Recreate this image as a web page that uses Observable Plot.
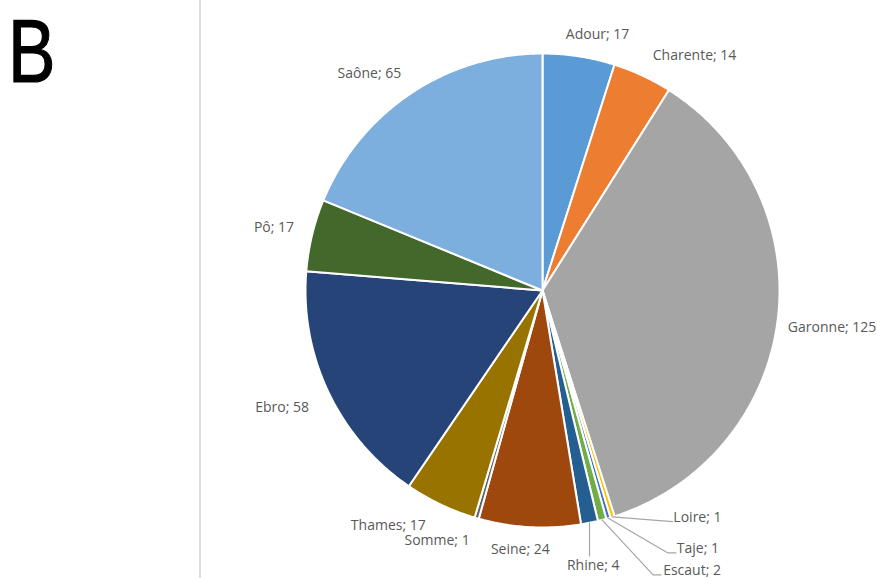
<!DOCTYPE html>
<html><head><meta charset="utf-8">
<script src="https://cdn.jsdelivr.net/npm/d3@7"></script>
<script src="https://cdn.jsdelivr.net/npm/@observablehq/plot@0.6"></script>
<style>
html,body{margin:0;padding:0;background:#fff;}
#wrap{position:relative;width:877px;height:578px;overflow:hidden;background:#fff;}
#letter{position:absolute;left:8px;top:0;font-family:"Liberation Sans",Arial,sans-serif;font-weight:400;font-size:89px;line-height:normal;color:#000;-webkit-text-stroke:1.2px #000;transform:scaleX(0.8);transform-origin:0 0;}
#divider{position:absolute;left:199px;top:0;width:2px;height:578px;background:#dcdcdc;}
#chart{position:absolute;left:0;top:0;}
</style></head><body>
<div id="wrap"><div id="letter">B</div><div id="divider"></div><div id="chart"></div></div>
<script>
// ---- data ----
const rivers = ["Adour","Charente","Garonne","Loire","Taje","Escaut","Rhine","Seine","Somme","Thames","Ebro","Pô","Saône"];
const counts = [17,14,125,1,1,2,4,24,1,17,58,17,65];
const colors = ["#5B9BD5","#ED7D31","#A5A5A5","#FFC000","#4472C4","#70AD47","#255E91","#9E480E","#636363","#997300","#264478","#43682B","#7CAFDD"];

// ---- layout (pixel nudges of the labels from their radial anchor) ----
const R_PX = 237;
const labelNudge = [[15,2],[42,1.5],[31,4],[78,-22],[83,8],[84,28],[-1,19],[-8,-1],[-33,0],[-42,0],[-25,5],[-15,-2],[-28,0]];
const leaderRivers = ["Loire","Taje","Escaut","Rhine"];

const total = d3.sum(counts);
const slices = [];
let cum = 0;
rivers.forEach((name, i) => {
  const a0 = cum / total * 2 * Math.PI;
  cum += counts[i];
  const a1 = cum / total * 2 * Math.PI;
  slices.push({name, value: counts[i], color: colors[i], a0, a1, mid: (a0 + a1) / 2, i});
});

// polygon points for each slice (angle clockwise from 12 o'clock)
const pts = [];
for (const s of slices) {
  pts.push({name: s.name, color: s.color, x: 0, y: 0});
  const n = Math.max(2, Math.ceil((s.a1 - s.a0) / (Math.PI / 360)));
  for (let k = 0; k <= n; k++) {
    const a = s.a0 + (s.a1 - s.a0) * k / n;
    pts.push({name: s.name, color: s.color, x: Math.sin(a), y: Math.cos(a)});
  }
  pts.push({name: s.name, color: s.color, x: 0, y: 0});
}

const labels = slices.map(s => {
  const [dx, dy] = labelNudge[s.i];
  return {
    name: s.name,
    text: `${s.name}; ${s.value}`,
    x: 1.1 * Math.sin(s.mid) + dx / R_PX,
    y: 1.1 * Math.cos(s.mid) - dy / R_PX
  };
});

// leader lines: from slice edge to the label
const leaders = [];
for (const s of slices) {
  if (!leaderRivers.includes(s.name)) continue;
  const lab = labels[s.i];
  const sx = Math.sin(s.mid), sy = Math.cos(s.mid);
  leaders.push({name: s.name, x: sx, y: sy});
  if (s.name === "Rhine") {
    leaders.push({name: s.name, x: sx, y: lab.y + 9 / R_PX});
  } else if (s.name === "Loire") {
    leaders.push({name: s.name, x: lab.x - 25 / R_PX, y: lab.y - 4 / R_PX});
  } else {
    const w = s.name === "Taje" ? 22 : 31;
    leaders.push({name: s.name, x: lab.x - (w + 8) / R_PX, y: lab.y - 4 / R_PX});
    leaders.push({name: s.name, x: lab.x - w / R_PX, y: lab.y - 4 / R_PX});
  }
}

const chart = Plot.plot({
  width: 877,
  height: 578,
  margin: 0,
  x: {domain: [-1, 1], range: [542 - R_PX, 542 + R_PX], axis: null},
  y: {domain: [-1, 1], range: [290 + R_PX, 290 - R_PX], axis: null},
  color: {type: "identity"},
  style: {background: "transparent", overflow: "visible"},
  marks: [
    Plot.line(pts, {x: "x", y: "y", z: "name", fill: "color", stroke: "#ffffff", strokeWidth: 2, strokeLinejoin: "round", curve: "linear"}),
    Plot.line(leaders, {x: "x", y: "y", z: "name", stroke: "#a6a6a6", strokeWidth: 1.2}),
    Plot.text(labels, {x: "x", y: "y", text: "text", fill: "#595959", fontSize: 14, fontFamily: "Open Sans", textAnchor: "middle", lineAnchor: "middle"})
  ]
});
document.getElementById("chart").appendChild(chart);
</script>
</body></html>
